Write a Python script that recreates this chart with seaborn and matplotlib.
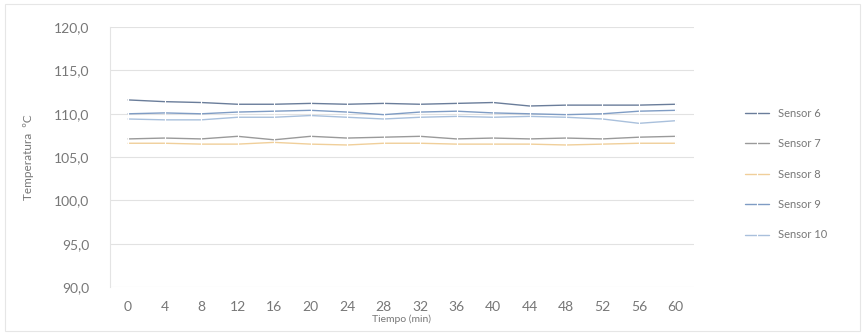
import seaborn as sns
import matplotlib.pyplot as plt
import pandas as pd

# Tiempo (min) and temperature readings per sensor
minutos = [0, 4, 8, 12, 16, 20, 24, 28, 32, 36, 40, 44, 48, 52, 56, 60]
sensor_6 = [111.6, 111.4, 111.3, 111.1, 111.1, 111.2, 111.1, 111.2, 111.1, 111.2, 111.3, 110.9, 111.0, 111.0, 111.0, 111.1]
sensor_7 = [107.1, 107.2, 107.1, 107.4, 107.0, 107.4, 107.2, 107.3, 107.4, 107.1, 107.2, 107.1, 107.2, 107.1, 107.3, 107.4]
sensor_8 = [106.6, 106.6, 106.5, 106.5, 106.7, 106.5, 106.4, 106.6, 106.6, 106.5, 106.5, 106.5, 106.4, 106.5, 106.6, 106.6]
sensor_9 = [110.0, 110.1, 110.0, 110.2, 110.3, 110.4, 110.2, 109.9, 110.2, 110.3, 110.1, 110.0, 109.9, 110.0, 110.3, 110.4]
sensor_10 = [109.4, 109.3, 109.3, 109.6, 109.6, 109.8, 109.6, 109.4, 109.6, 109.7, 109.6, 109.7, 109.6, 109.4, 108.9, 109.2]
nombres = ["Sensor 6", "Sensor 7", "Sensor 8", "Sensor 9", "Sensor 10"]
y_ticks = [90, 95, 100, 105, 110, 115, 120]

series = [sensor_6, sensor_7, sensor_8, sensor_9, sensor_10]
rows = []
for nombre, vals in zip(nombres, series):
    for m, v in zip(minutos, vals):
        rows.append({"Tiempo": m, "Temp": v, "Sensor": nombre})
df = pd.DataFrame(rows)

colores = {"Sensor 6": "#6a7d9a", "Sensor 7": "#9a9a9a", "Sensor 8": "#f0cf9a",
           "Sensor 9": "#7f9cc4", "Sensor 10": "#a9c0dc"}

sns.set_style("white")
plt.rcParams["font.family"] = ["Lato", "DejaVu Sans"]

fig = plt.figure(figsize=(8.65, 3.35), dpi=100)
ax = fig.add_axes([0.127, 0.143, 0.675, 0.776])

sns.lineplot(data=df, x="Tiempo", y="Temp", hue="Sensor", hue_order=nombres,
             palette=colores, marker="|", markersize=5, markeredgewidth=0.8,
             linewidth=1.0, ax=ax)

ax.set_xlim(-2, 62)
ax.set_ylim(90, 120)
ax.set_xticks(minutos)
ax.set_yticks(y_ticks)
ax.set_yticklabels([f"{t:.1f}".replace(".", ",") for t in y_ticks])
ax.tick_params(axis="both", length=0, labelsize=10, colors="#777777")
ax.tick_params(axis="x", pad=10)
ax.tick_params(axis="y", pad=15)
ax.grid(axis="y", color="#e2e2e2", linewidth=0.8)
for s in ["top", "right", "bottom"]:
    ax.spines[s].set_visible(False)
ax.spines["left"].set_color("#e4e4e4")

ax.set_xlabel("Tiempo (min)", fontsize=7.5, color="#777777", labelpad=1)
ax.set_ylabel("Temperatura  ºC", fontsize=8.5, color="#777777", labelpad=14)

ax.legend(loc="center left", bbox_to_anchor=(1.07, 0.435), frameon=False,
          fontsize=8, labelcolor="#777777", handlelength=2.2, labelspacing=1.75)

# faint border round the chart area
fig.patches.append(plt.Rectangle((0.006, 0.012), 0.988, 0.976, transform=fig.transFigure,
                                 fill=False, edgecolor="#e6e6e6", linewidth=0.8))

fig.savefig("out.png", dpi=100)
